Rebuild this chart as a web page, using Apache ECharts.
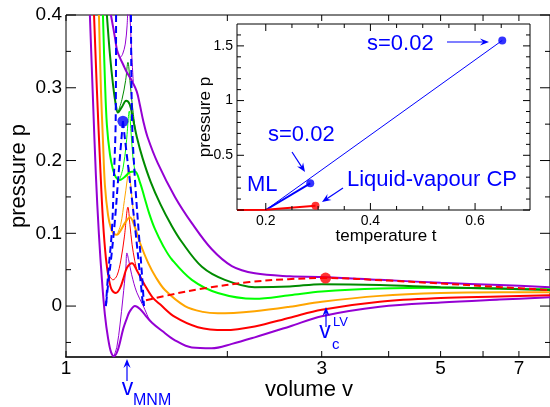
<!DOCTYPE html>
<html>
<head>
<meta charset="utf-8">
<script src="https://cdn.jsdelivr.net/npm/echarts@6/dist/echarts.min.js"></script>
<style>
html,body{margin:0;padding:0;background:#fff;}
#c{width:550px;height:407px;}
</style>
</head>
<body>
<div id="c"></div>
<script>
// ---------- tick values ----------
const volumeTicks = [1, 2, 3, 4, 5, 6, 7];
const volumeLabels = [1, 3, 5, 7];
const pressureMajor = [0, 0.1, 0.2, 0.3, 0.4];
const pressureMinor = [-0.05, 0.05, 0.15, 0.25, 0.35];
const insetTempMajor = [0.2, 0.4, 0.6];
const insetTempMinor = [0.25, 0.3, 0.35, 0.45, 0.5, 0.55, 0.65];
const insetPresMajor = [0, 0.5, 1, 1.5];
const insetPresLabels = [0.5, 1, 1.5];
const insetPresMinor = [0.1, 0.2, 0.3, 0.4, 0.6, 0.7, 0.8, 0.9, 1.1, 1.2, 1.3, 1.4, 1.6];

// ---------- isotherms [volume v, pressure p] ----------
const violetLowStable = [[1.108,0.40],[1.123,0.283],[1.137,0.18],[1.152,0.098],[1.167,0.036],[1.182,-0.012],[1.198,-0.044],[1.213,-0.063],[1.229,-0.069],[1.25,-0.06],[1.279,-0.031],[1.30,-0.016],[1.316,-0.007],[1.345,0.0],[1.374,-0.004],[1.404,-0.012],[1.447,-0.023],[1.51,-0.034],[1.597,-0.047],[1.717,-0.057],[1.87,-0.058],[2.04,-0.052],[2.25,-0.043],[2.615,-0.028],[3.0,-0.014],[3.85,-0.001],[5.0,0.005],[6.44,0.009],[8.0,0.012]];
const violetLowThin = [[1.229,-0.069],[1.245,-0.055],[1.261,-0.026],[1.277,0.011],[1.293,0.052],[1.299,0.073],[1.31,0.062],[1.326,0.043],[1.355,0.019],[1.392,0.001],[1.43,-0.019]];

const redStable = [[1.128,0.40],[1.142,0.297],[1.157,0.201],[1.172,0.118],[1.187,0.066],[1.203,0.036],[1.218,0.022],[1.239,0.018],[1.26,0.024],[1.28,0.038],[1.30,0.053],[1.328,0.059],[1.356,0.049],[1.40,0.030],[1.45,0.012],[1.50,0.002],[1.597,-0.015],[1.762,-0.029],[1.979,-0.033],[2.25,-0.028],[2.615,-0.016],[3.0,-0.005],[3.85,0.006],[5.0,0.011],[6.44,0.013],[8.0,0.015]];
const redThin = [[1.198,0.045],[1.224,0.036],[1.245,0.042],[1.265,0.062],[1.285,0.095],[1.305,0.136],[1.316,0.112],[1.328,0.085],[1.343,0.063],[1.356,0.049]];

const orangeStable = [[1.152,0.40],[1.162,0.297],[1.172,0.228],[1.182,0.166],[1.198,0.125],[1.213,0.107],[1.229,0.099],[1.245,0.098],[1.265,0.104],[1.29,0.115],[1.316,0.122],[1.345,0.108],[1.374,0.087],[1.424,0.059],[1.47,0.04],[1.53,0.022],[1.667,0.0],[1.80,-0.008],[1.92,-0.010],[2.25,-0.007],[2.615,-0.001],[3.0,0.006],[3.85,0.014],[5.0,0.018],[6.44,0.019],[8.0,0.019]];
const orangeThin = [[1.245,0.098],[1.265,0.112],[1.285,0.145],[1.30,0.172],[1.31,0.191],[1.32,0.168],[1.33,0.142],[1.345,0.108]];

const limeStable = [[1.172,0.40],[1.182,0.311],[1.192,0.249],[1.208,0.208],[1.224,0.187],[1.239,0.177],[1.258,0.173],[1.285,0.177],[1.316,0.184],[1.345,0.185],[1.374,0.170],[1.40,0.150],[1.43,0.127],[1.465,0.106],[1.52,0.082],[1.576,0.064],[1.717,0.036],[1.92,0.018],[2.25,0.010],[2.615,0.015],[3.0,0.020],[3.85,0.024],[5.0,0.025],[6.44,0.024],[8.0,0.023]];
const limeThin = [[1.258,0.173],[1.278,0.19],[1.295,0.222],[1.313,0.268],[1.322,0.24],[1.333,0.205],[1.345,0.185]];

const green4Stable = [[1.192,0.40],[1.208,0.345],[1.224,0.304],[1.239,0.276],[1.25,0.266],[1.27,0.273],[1.295,0.282],[1.315,0.277],[1.333,0.258],[1.356,0.232],[1.39,0.203],[1.44,0.17],[1.50,0.14],[1.57,0.112],[1.645,0.088],[1.793,0.054],[1.979,0.036],[2.25,0.026],[2.615,0.027],[3.0,0.030],[3.85,0.029],[5.0,0.026],[6.44,0.024],[8.0,0.022]];
const green4Thin = [[1.25,0.266],[1.272,0.284],[1.292,0.31],[1.305,0.335],[1.316,0.31],[1.328,0.28],[1.345,0.245]];

const violetHighStable = [[1.213,0.40],[1.232,0.372],[1.245,0.352],[1.261,0.341],[1.28,0.331],[1.297,0.322],[1.326,0.31],[1.355,0.295],[1.374,0.276],[1.394,0.254],[1.42,0.232],[1.484,0.196],[1.597,0.150],[1.717,0.114],[1.871,0.078],[2.039,0.055],[2.251,0.045],[2.615,0.041],[3.0,0.040],[3.85,0.036],[5.0,0.032],[6.44,0.029],[8.0,0.026]];
const violetHighThin = [[1.261,0.341],[1.275,0.346],[1.29,0.36],[1.30,0.385],[1.308,0.42],[1.316,0.40],[1.325,0.352],[1.335,0.308]];

// spinodal (blue dashed) branches
const spinodalLeftOuter = [[1.240,0.40],[1.238,0.256],[1.229,0.18],[1.218,0.104],[1.198,0.043],[1.187,0.0]];
const spinodalLeftInner = [[1.277,0.254],[1.255,0.187],[1.234,0.118],[1.213,0.063],[1.198,0.029],[1.187,0.0]];
const spinodalRightInner = [[1.277,0.254],[1.305,0.194],[1.328,0.146],[1.35,0.098],[1.374,0.043],[1.392,0.0]];
const spinodalRightOuter = [[1.322,0.40],[1.328,0.256],[1.345,0.173],[1.368,0.098],[1.386,0.043],[1.398,0.0]];

// liquid-vapour coexistence (red dashed)
const binodal = [[1.41,0.008],[1.6,0.017],[1.8,0.024],[2.2,0.033],[2.6,0.037],[3.05,0.0385],[4.0,0.035],[5.0,0.031],[6.5,0.026],[8.0,0.022]];

const mnmPoint = [[1.277, 0.254]];
const lvPoint = [[3.05, 0.0385]];

// ---------- inset: pressure vs temperature ----------
const insetLongLine = [[0.2, 0.0], [0.652, 1.55]];
const insetMLLine = [[0.2, 0.0], [0.285, 0.244]];
const insetLVLine = [[0.145, 0.0], [0.2, 0.003], [0.295, 0.039]];
const insetBluePoints = [[0.652, 1.55], [0.285, 0.244]];
const insetRedPoints = [[0.295, 0.039]];

const FONT = '"Liberation Sans", Arial, Helvetica, sans-serif';
const VIOLET = '#9400d3', RED = '#ff0000', ORANGE = '#ffa500', LIME = '#00ff00', GREEN4 = '#008b00', BLUE = '#0000ff';

function line(name, data, color, width, extra) {
  return Object.assign({
    name, type: 'line', xAxisIndex: 0, yAxisIndex: 0, data,
    showSymbol: false, symbol: 'none', smooth: 0.35, clip: true,
    lineStyle: { color, width }, silent: true, z: 3
  }, extra || {});
}
function dashed(name, data, color) {
  return line(name, data, color, 2, { lineStyle: { color, width: 2, type: [7, 4] }, z: 4 });
}

const option = {
  animation: false,
  backgroundColor: '#fff',
  grid: [
    { left: 66, top: 15, width: 485, height: 342, show: true, borderColor: '#000', borderWidth: 1, backgroundColor: 'transparent' },
    { left: 237, top: 24, width: 293, height: 186, show: true, borderColor: '#000', borderWidth: 1, backgroundColor: '#fff', z: 5 }
  ],
  xAxis: [
    { type: 'log', logBase: 10, gridIndex: 0, min: 1, max: 8,
      axisLine: { show: true, onZero: false, lineStyle: { color: '#333', width: 2 } },
      axisTick: { show: false }, axisLabel: { show: false }, splitLine: { show: false }, minorTick: { show: false } },
    { type: 'value', gridIndex: 1, min: 0.145, max: 0.705,
      axisLine: { show: false }, axisTick: { show: false }, axisLabel: { show: false }, splitLine: { show: false } }
  ],
  yAxis: [
    { type: 'value', gridIndex: 0, min: -0.07, max: 0.4,
      axisLine: { show: false }, axisTick: { show: false }, axisLabel: { show: false }, splitLine: { show: false } },
    { type: 'value', gridIndex: 1, min: 0, max: 1.7,
      axisLine: { show: false }, axisTick: { show: false }, axisLabel: { show: false }, splitLine: { show: false } }
  ],
  series: [
    line('violet low', violetLowStable, VIOLET, 2),
    line('violet low thin', violetLowThin, VIOLET, 1),
    line('red', redStable, RED, 2),
    line('red thin', redThin, RED, 1),
    line('orange', orangeStable, ORANGE, 2),
    line('orange thin', orangeThin, ORANGE, 1),
    line('green', limeStable, LIME, 2),
    line('green thin', limeThin, LIME, 1),
    line('green4', green4Stable, GREEN4, 2),
    line('green4 thin', green4Thin, GREEN4, 1),
    line('violet high', violetHighStable, VIOLET, 2),
    line('violet high thin', violetHighThin, VIOLET, 1),
    dashed('spinodal a', spinodalLeftOuter, BLUE),
    dashed('spinodal b', spinodalLeftInner, BLUE),
    dashed('spinodal c', spinodalRightInner, BLUE),
    dashed('spinodal d', spinodalRightOuter, BLUE),
    dashed('binodal', binodal, RED),
    { name: 'MNM point', type: 'scatter', xAxisIndex: 0, yAxisIndex: 0, data: mnmPoint, symbolSize: 11, itemStyle: { color: BLUE }, z: 6, silent: true },
    { name: 'LV point', type: 'scatter', xAxisIndex: 0, yAxisIndex: 0, data: lvPoint, symbolSize: 11, itemStyle: { color: RED }, z: 6, silent: true },
    { name: 'inset long', type: 'line', xAxisIndex: 1, yAxisIndex: 1, data: insetLongLine, showSymbol: false, symbol: 'none', lineStyle: { color: BLUE, width: 1 }, z: 8, silent: true },
    { name: 'inset ML', type: 'line', xAxisIndex: 1, yAxisIndex: 1, data: insetMLLine, showSymbol: false, symbol: 'none', lineStyle: { color: BLUE, width: 2 }, z: 8, silent: true },
    { name: 'inset LV', type: 'line', xAxisIndex: 1, yAxisIndex: 1, data: insetLVLine, showSymbol: false, symbol: 'none', lineStyle: { color: RED, width: 2 }, z: 8, silent: true },
    { name: 'inset blue pts', type: 'scatter', xAxisIndex: 1, yAxisIndex: 1, data: insetBluePoints, symbolSize: 8, itemStyle: { color: BLUE }, z: 9, silent: true },
    { name: 'inset red pts', type: 'scatter', xAxisIndex: 1, yAxisIndex: 1, data: insetRedPoints, symbolSize: 8, itemStyle: { color: RED }, z: 9, silent: true }
  ]
};

const chart = echarts.init(document.getElementById('c'), null, { renderer: 'canvas' });
chart.setOption(option);

function X(idx, v) { return chart.convertToPixel({ xAxisIndex: idx }, v); }
function Y(idx, v) { return chart.convertToPixel({ yAxisIndex: idx }, v); }

const g = [];
function seg(x1, y1, x2, y2, color, w) {
  g.push({ type: 'line', silent: true, z: 20, shape: { x1, y1, x2, y2 }, style: { stroke: color || '#000', lineWidth: w || 1 } });
}
function txt(text, x, y, size, color, align, valign, rot) {
  g.push({ type: 'text', silent: true, z: 21, x, y, rotation: rot || 0,
    style: { text, font: size + 'px ' + FONT, fill: color || '#000', align: align || 'center', verticalAlign: valign || 'middle' } });
}
function arrow(x1, y1, x2, y2, color) {
  const a = Math.atan2(y2 - y1, x2 - x1), L = 9, W = 3.6;
  const c = Math.cos(a), s = Math.sin(a);
  const bx = x2 - L * c, by = y2 - L * s, nx = -s, ny = c;
  const mx = x2 - 0.65 * L * c, my = y2 - 0.65 * L * s;
  seg(x1, y1, mx, my, color, 1.2);
  g.push({ type: 'polygon', silent: true, z: 22, shape: { points: [[x2, y2], [bx + nx * W, by + ny * W], [mx, my], [bx - nx * W, by - ny * W]] }, style: { fill: color } });
}

// main frame ticks
const mx0 = X(0, 1), mx1 = X(0, 8), myB = Y(0, -0.07), myT = Y(0, 0.4);
volumeTicks.forEach(v => { const x = X(0, v); seg(x, myB, x, myB - 6); seg(x, myT, x, myT + 6); });
volumeLabels.forEach(v => txt(String(v), X(0, v), 369, 19));
pressureMajor.forEach(p => { const y = Y(0, p); seg(mx0, y, mx0 + 10, y); seg(mx1, y, mx1 - 10, y); txt(String(p), mx0 - 4, y, 19, '#000', 'right'); });
pressureMinor.forEach(p => { const y = Y(0, p); seg(mx0, y, mx0 + 5, y); seg(mx1, y, mx1 - 5, y); });
txt('volume v', 309, 390, 22);
txt('pressure p', 19, 176, 22, '#000', 'center', 'middle', Math.PI / 2);

// main annotations
arrow(127, 381, 127, 359, BLUE);
txt('v', 127.5, 389, 23, BLUE);
txt('MNM', 133, 401, 16, BLUE, 'left');
arrow(326, 327, 326, 307, BLUE);
txt('v', 325, 332, 23, BLUE);
txt('c', 332, 345, 15, BLUE, 'left');
txt('LV', 333, 322, 13, BLUE, 'left');

// inset ticks
const ix0 = X(1, 0.145), ix1 = X(1, 0.705), iyB = Y(1, 0), iyT = Y(1, 1.7);
insetTempMajor.forEach(t => { const x = X(1, t); seg(x, iyB, x, iyB - 7); seg(x, iyT, x, iyT + 7); txt(String(t), x, 221, 14); });
insetTempMinor.forEach(t => { const x = X(1, t); seg(x, iyB, x, iyB - 4); seg(x, iyT, x, iyT + 4); });
insetPresMajor.forEach(p => { const y = Y(1, p); seg(ix0, y, ix0 + 7, y); seg(ix1, y, ix1 - 7, y); });
insetPresLabels.forEach(p => txt(String(p), ix0 - 4, Y(1, p), 14, '#000', 'right'));
insetPresMinor.forEach(p => { const y = Y(1, p); seg(ix0, y, ix0 + 4, y); seg(ix1, y, ix1 - 4, y); });
txt('temperature t', 386, 236, 17);
txt('pressure p', 205, 117, 17, '#000', 'center', 'middle', Math.PI / 2);

// inset annotations
txt('s=0.02', 367, 44, 22, BLUE, 'left');
arrow(447, 42, 489, 42, BLUE);
txt('s=0.02', 268, 135, 22, BLUE, 'left');
arrow(292, 152, 305, 172, BLUE);
txt('ML', 247, 185, 22, BLUE, 'left');
txt('Liquid-vapour CP', 347, 180, 22, BLUE, 'left');
arrow(343, 188, 322, 202, BLUE);

chart.setOption({ graphic: g });
</script>
</body>
</html>
